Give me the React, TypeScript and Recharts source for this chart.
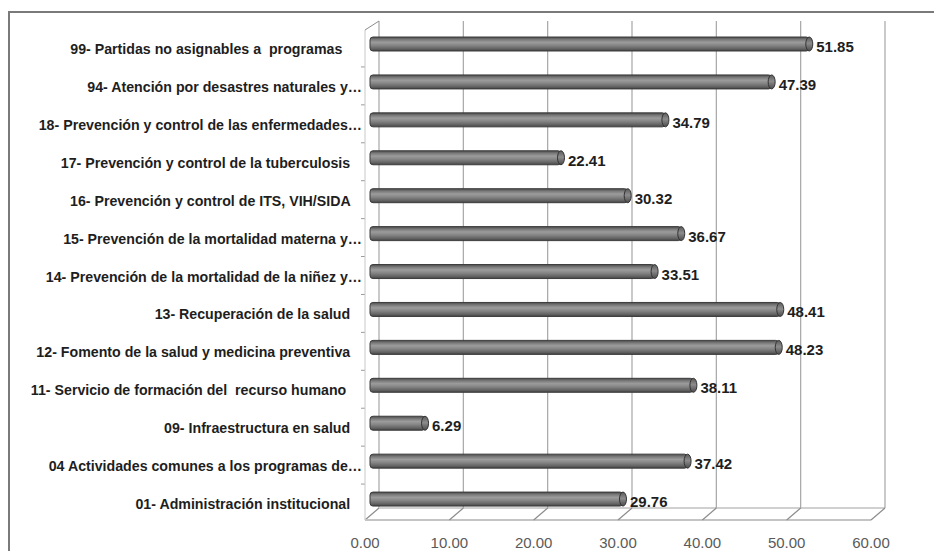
import { BarChart, Bar, XAxis, YAxis, CartesianGrid, LabelList } from 'recharts';

const categories = [
  '99- Partidas no asignables a  programas     ',
  '94- Atención por desastres naturales y…',
  '18- Prevención y control de las enfermedades…',
  '17- Prevención y control de la tuberculosis   ',
  '16- Prevención y control de ITS, VIH/SIDA   ',
  '15- Prevención de la mortalidad materna y…',
  '14- Prevención de la mortalidad de la niñez y…',
  '13- Recuperación de la salud   ',
  '12- Fomento de la salud y medicina preventiva   ',
  '11- Servicio de formación del  recurso humano    ',
  '09- Infraestructura en salud   ',
  '04 Actividades comunes a los programas de…',
  '01- Administración institucional   ',
];

const values = [51.85, 47.39, 34.79, 22.41, 30.32, 36.67, 33.51, 48.41, 48.23, 38.11, 6.29, 37.42, 29.76];

const xTicks = [0, 10, 20, 30, 40, 50, 60];

const data = categories.map((name, i) => ({ name, value: values[i] }));

const FONT = '"Liberation Sans", Arial, sans-serif';

// half of the 3D depth (front plane vs back wall)
const DX = 7;

// back wall lines + slanted floor ticks; first one also draws floor and left wall
const GridLine = (p: any) => {
  const { x1, y1, y2, index } = p;
  const left = typeof p.x === 'number' ? p.x : x1;
  const w = typeof p.width === 'number' ? p.width : 506;
  const backTop = y1 - 4;
  const backBottom = y2 - 10;
  const frontTop = y1 + 5;
  const frontBottom = y2 + 2;
  return (
    <g key={`v-${index}`}>
      <line x1={x1 + DX} y1={backTop} x2={x1 + DX} y2={backBottom} stroke="#a6a6a6" strokeWidth={1.2} />
      <line x1={x1 + DX} y1={backBottom} x2={x1 - DX} y2={frontBottom} stroke="#8c8c8c" strokeWidth={1.2} />
      {index === 0 && (
        <g>
          <line x1={left + DX} y1={backBottom} x2={left + w + DX} y2={backBottom} stroke="#d0d0d0" strokeWidth={2} />
          <line x1={left - DX} y1={frontBottom} x2={left + w - DX} y2={frontBottom} stroke="#c4c4c4" strokeWidth={2} />
          <line x1={left - DX} y1={frontTop} x2={left - DX} y2={frontBottom} stroke="#c8c8c8" strokeWidth={1} />
          <line x1={left - DX} y1={frontTop} x2={left + DX} y2={backTop} stroke="#8c8c8c" strokeWidth={1} />
        </g>
      )}
    </g>
  );
};

// small ticks on the front edge of the left wall, at category boundaries
const WallTicks = (p: any) => {
  if (p.index !== 0) return <g key={`h-${p.index}`} />;
  const top = typeof p.y === 'number' ? p.y : 17;
  const h = typeof p.height === 'number' ? p.height : 493;
  const left = typeof p.x === 'number' ? p.x : 364;
  const band = h / categories.length;
  return (
    <g key="wall-ticks">
      {categories.slice(0, -1).map((c, i) => {
        const yy = top + band * (i + 1) + 4;
        return <line key={c} x1={left - DX - 4} y1={yy} x2={left - DX} y2={yy} stroke="#9a9a9a" />;
      })}
    </g>
  );
};

const CategoryTick = (p: any) => (
  <text
    x={p.x - 2}
    y={p.y + 10}
    textAnchor="end"
    fontFamily={FONT}
    fontWeight={700}
    fontSize={14.2}
    fill="#1e1e1e"
    style={{ whiteSpace: 'pre' }}
  >
    {p.payload.value}
  </text>
);

const ValueTick = (p: any) => (
  <text x={p.x - DX} y={p.y + 22} textAnchor="middle" fontFamily={FONT} fontSize={15} fill="#5a5a5a">
    {Number(p.payload.value).toFixed(2)}
  </text>
);

const Cylinder = (p: any) => {
  const { x, y, width, height } = p;
  if (!width || width <= 0) return <g />;
  return (
    <g>
      <rect x={x - 2} y={y} width={width + 2} height={height} rx={3} fill="url(#cyl)" stroke="#3c3c3c" strokeWidth={1} />
      <ellipse cx={x + width} cy={y + height / 2} rx={3.5} ry={height / 2} fill="url(#cap)" stroke="#333" strokeWidth={1} />
    </g>
  );
};

const ValueLabel = (p: any) => (
  <text
    x={p.x + p.width + 7}
    y={p.y + p.height / 2 + 8}
    fontFamily={FONT}
    fontWeight={700}
    fontSize={15}
    fill="#1e1e1e"
  >
    {Number(p.value).toFixed(2)}
  </text>
);

export default function App() {
  return (
    <div style={{ position: 'relative', width: 935, height: 543 }}>
      <div
        style={{
          position: 'absolute',
          left: 0,
          top: 3,
          width: 926,
          height: 540,
          boxSizing: 'border-box',
          borderTop: '2px solid #7a7a7a',
          borderLeft: '2px solid #7a7a7a',
        }}
      />
      <div style={{ position: 'absolute', left: 0, top: 0 }}>
        <BarChart
          width={935}
          height={543}
          layout="vertical"
          data={data}
          margin={{ top: 17, right: 65, bottom: 3, left: 0 }}
          barSize={14}
        >
          <defs>
            <linearGradient id="cyl" x1="0" y1="0" x2="0" y2="1">
              <stop offset="0%" stopColor="#4a4a4a" />
              <stop offset="18%" stopColor="#7a7a7a" />
              <stop offset="38%" stopColor="#9c9c9c" />
              <stop offset="60%" stopColor="#858585" />
              <stop offset="85%" stopColor="#626262" />
              <stop offset="100%" stopColor="#424242" />
            </linearGradient>
            <linearGradient id="cap" x1="0" y1="0" x2="0" y2="1">
              <stop offset="0%" stopColor="#5a5a5a" />
              <stop offset="45%" stopColor="#8c8c8c" />
              <stop offset="100%" stopColor="#4a4a4a" />
            </linearGradient>
          </defs>
          <CartesianGrid vertical={GridLine} horizontal={WallTicks} />
          <XAxis
            type="number"
            domain={[0, 60]}
            ticks={xTicks}
            axisLine={false}
            tickLine={false}
            height={30}
            tick={ValueTick}
          />
          <YAxis
            type="category"
            dataKey="name"
            width={364}
            axisLine={false}
            tickLine={false}
            interval={0}
            tick={CategoryTick}
          />
          <Bar dataKey="value" shape={Cylinder} isAnimationActive={false}>
            <LabelList dataKey="value" content={ValueLabel} />
          </Bar>
        </BarChart>
      </div>
    </div>
  );
}
